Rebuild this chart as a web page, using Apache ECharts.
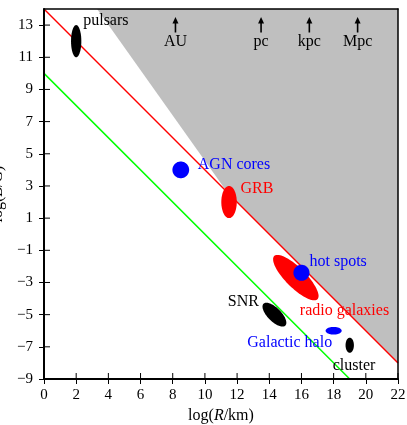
<!DOCTYPE html>
<html>
<head>
<meta charset="utf-8">
<script src="https://cdn.jsdelivr.net/npm/echarts@6/dist/echarts.min.js"></script>
<style>
  html, body { margin: 0; padding: 0; background: #fff; }
  #chart { width: 407px; height: 425px; }
</style>
</head>
<body>
<div id="chart"></div>
<script>
// axes
const xTicks = [0, 2, 4, 6, 8, 10, 12, 14, 16, 18, 20, 22];
const yTicks = [-9, -7, -5, -3, -1, 1, 3, 5, 7, 9, 11, 13];
const xRange = [0, 22];
const yRange = [-9, 14];

// Hillas limits, log B = c - log R
const redLine = [[0, 14], [22, -8]];
const greenLine = [[0, 10], [19, -9]];
// excluded region
const grayRegion = [[3.3, 14], [22, 14], [22, -8], [11.4, 2.6]];

// sources (radio galaxies before hot spots so the circle sits on top)
const sourceNames = ['pulsars', 'AGN cores', 'GRB', 'radio galaxies', 'hot spots', 'SNR', 'Galactic halo', 'cluster'];
const sourceLogR  = [2, 8.5, 11.5, 15.65, 16, 14.32, 18, 19];
const sourceLogB  = [12, 4, 2, -2.7, -2.4, -5, -6, -6.9];
const sourceHalfR = [0.32, 0.52, 0.48, 1.9, 0.5, 0.96, 0.5, 0.26];
const sourceHalfB = [1.0, 0.52, 1.0, 0.62, 0.5, 0.42, 0.24, 0.47];
const sourceTilt  = [0, 0, 0, -45, 0, -45, 0, 0];

// length scales marked on top
const scaleNames = ['AU', 'pc', 'kpc', 'Mpc'];
const scaleLogR  = [8.17, 13.49, 16.49, 19.49];

const FONT = 'Liberation Serif';
const BLUE = '#0000ff', RED = '#ff0000', BLACK = '#000000';
const sourceColor = {
  'pulsars': BLACK, 'AGN cores': BLUE, 'GRB': RED, 'radio galaxies': RED,
  'hot spots': BLUE, 'SNR': BLACK, 'Galactic halo': BLUE, 'cluster': BLACK
};
// label placement, px from the source centre
const labelPlace = {
  'pulsars':        { dx: 7,    dy: -20, align: 'left' },
  'AGN cores':      { dx: 17,   dy: -5,  align: 'left' },
  'GRB':            { dx: 11.5, dy: -13, align: 'left' },
  'radio galaxies': { dx: 4,    dy: 33,  align: 'left' },
  'hot spots':      { dx: 8,    dy: -11, align: 'left' },
  'SNR':            { dx: -15.5, dy: -13, align: 'right' },
  'Galactic halo':  { dx: -1.5, dy: 12,  align: 'right' },
  'cluster':        { dx: -17,  dy: 21,  align: 'left' }
};

const sourceData = sourceNames.map((n, i) =>
  [sourceLogR[i], sourceLogB[i], sourceHalfR[i], sourceHalfB[i], sourceTilt[i], i]);

const fmt = v => (v < 0 ? '\u2212' + Math.abs(v) : String(v));

function renderEllipse(params, api) {
  const cx = api.value(0), cy = api.value(1);
  const a = api.value(2), b = api.value(3);
  const t = api.value(4) * Math.PI / 180;
  const name = sourceNames[api.value(5)];
  const pts = [];
  for (let k = 0; k < 90; k++) {
    const s = k / 90 * 2 * Math.PI;
    const u = a * Math.cos(s), v = b * Math.sin(s);
    pts.push(api.coord([cx + u * Math.cos(t) - v * Math.sin(t),
                        cy + u * Math.sin(t) + v * Math.cos(t)]));
  }
  return { type: 'polygon', shape: { points: pts }, style: { fill: sourceColor[name] } };
}

function renderLabel(params, api) {
  const name = sourceNames[api.value(5)];
  const p = api.coord([api.value(0), api.value(1)]);
  const lp = labelPlace[name];
  return {
    type: 'text',
    x: p[0] + lp.dx, y: p[1] + lp.dy,
    style: {
      text: name, fill: sourceColor[name], font: '16px "' + FONT + '"',
      align: lp.align, verticalAlign: 'middle'
    }
  };
}

function renderScale(params, api) {
  const p = api.coord([api.value(0), yRange[1]]);
  const x = p[0], top = p[1];
  return {
    type: 'group',
    children: [
      { type: 'line', shape: { x1: x, y1: top + 12, x2: x, y2: top + 23.5 },
        style: { stroke: BLACK, lineWidth: 1.6 } },
      { type: 'polygon', shape: { points: [[x, top + 8], [x - 3, top + 14.5], [x + 3, top + 14.5]] },
        style: { fill: BLACK } },
      { type: 'text', x: x, y: top + 32.5,
        style: { text: scaleNames[params.dataIndex], fill: BLACK, font: '16px "' + FONT + '"',
                 align: 'center', verticalAlign: 'middle' } }
    ]
  };
}

// inner half of the crossing ticks (the axis draws the outer half)
function renderInnerTicks(params, api) {
  const kids = [];
  xTicks.forEach(v => {
    const p = api.coord([v, yRange[0]]);
    kids.push({ type: 'line', shape: { x1: p[0], y1: p[1], x2: p[0], y2: p[1] - 6 },
                style: { stroke: BLACK, lineWidth: 1 } });
  });
  yTicks.forEach(v => {
    const p = api.coord([xRange[0], v]);
    kids.push({ type: 'line', shape: { x1: p[0], y1: p[1], x2: p[0] + 6, y2: p[1] },
                style: { stroke: BLACK, lineWidth: 1 } });
  });
  return { type: 'group', children: kids };
}

function renderGray(params, api) {
  return {
    type: 'polygon',
    shape: { points: grayRegion.map(p => api.coord(p)) },
    style: { fill: '#bfbfbf' }
  };
}

const tickFont = { fontFamily: FONT, fontSize: 15, color: BLACK };

function axisSet(dim, range, ticks, name, nameOpt) {
  const base = { type: 'value', min: range[0], max: range[1], z: 10, splitLine: { show: false } };
  const near = dim === 'x' ? 'bottom' : 'left';
  const far = dim === 'x' ? 'top' : 'right';
  return [
    Object.assign({}, base, {
      position: near,
      axisLine: { show: true, onZero: false, lineStyle: { color: BLACK, width: 2 } },
      axisTick: { show: true, customValues: ticks, length: 5, lineStyle: { color: BLACK, width: 1 } },
      axisLabel: Object.assign({ customValues: ticks, formatter: fmt, margin: dim === 'x' ? 9 : 11 }, tickFont),
      name: name
    }, nameOpt),
    Object.assign({}, base, {
      position: far,
      axisLine: { show: true, onZero: false, lineStyle: { color: BLACK, width: 1.5 } },
      axisTick: { show: false },
      axisLabel: { show: false }
    })
  ];
}

const nameRich = {
  n: { fontFamily: FONT, fontSize: 16, color: BLACK },
  i: { fontFamily: FONT, fontSize: 16, fontStyle: 'italic', color: BLACK }
};

const chart = echarts.init(document.getElementById('chart'));
chart.setOption({
  animation: false,
  grid: { left: 44, right: 9, top: 9, bottom: 46, containLabel: false, outerBoundsMode: 'none' },
  xAxis: axisSet('x', xRange, xTicks, '{n|log(}{i|R}{n|/km)}',
    { nameLocation: 'middle', nameGap: 22, nameTextStyle: { rich: nameRich } }),
  yAxis: axisSet('y', yRange, yTicks, '{n|log(}{i|B}{n|/G)}',
    { nameLocation: 'middle', nameGap: 35, nameRotate: 90, nameTextStyle: { rich: nameRich } }),
  series: [
    { type: 'custom', name: 'excluded', renderItem: renderGray, data: [[0, 0]], z: 1, silent: true },
    { type: 'line', name: 'red', data: redLine, showSymbol: false, symbol: 'none', z: 2,
      lineStyle: { color: RED, width: 1.5 } },
    { type: 'line', name: 'green', data: greenLine, showSymbol: false, symbol: 'none', z: 2,
      lineStyle: { color: '#00ff00', width: 1.5 } },
    { type: 'custom', name: 'sources', renderItem: renderEllipse, data: sourceData, z: 3 },
    { type: 'custom', name: 'labels', renderItem: renderLabel, data: sourceData, z: 4 },
    { type: 'custom', name: 'scales', renderItem: renderScale,
      data: scaleLogR.map(v => [v, yRange[1]]), z: 4 },
    { type: 'custom', name: 'ticks', renderItem: renderInnerTicks, data: [[0, 0]], z: 5, silent: true }
  ]
});
</script>
</body>
</html>
